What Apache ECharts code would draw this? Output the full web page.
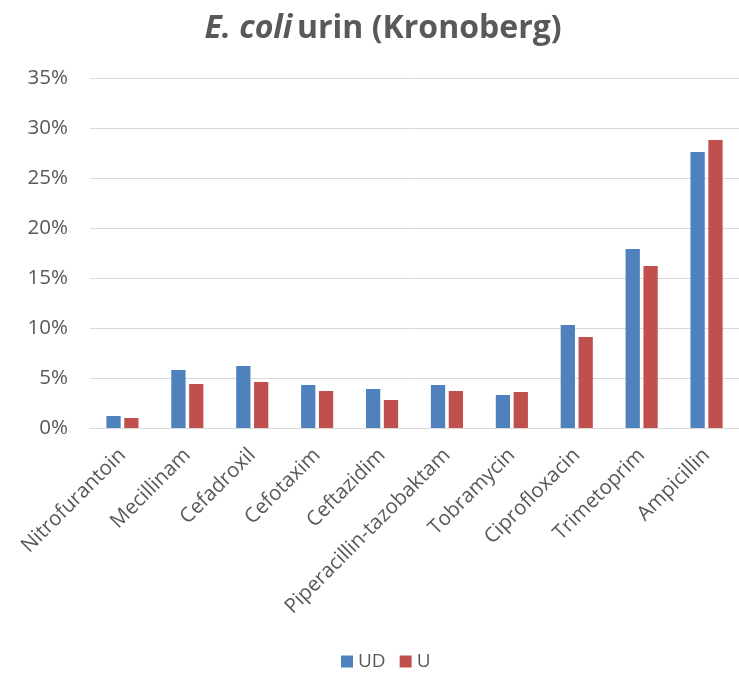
<!DOCTYPE html>
<html>
<head>
<meta charset="utf-8">
<script src="https://cdn.jsdelivr.net/npm/echarts@6/dist/echarts.min.js"></script>
<style>html,body{margin:0;padding:0;background:#fff}#c{width:739px;height:676px}</style>
</head>
<body>
<div id="c"></div>
<script>
const categories = ['Nitrofurantoin','Mecillinam','Cefadroxil','Cefotaxim','Ceftazidim','Piperacillin-tazobaktam','Tobramycin','Ciprofloxacin','Trimetoprim','Ampicillin'];
const seriesUD = [1.2, 5.8, 6.2, 4.3, 3.9, 4.3, 3.3, 10.3, 17.9, 27.6];
const seriesU = [1.0, 4.4, 4.6, 3.7, 2.8, 3.7, 3.6, 9.1, 16.2, 28.8];
const yTicks = [0, 5, 10, 15, 20, 25, 30, 35];

const FONT = '"Open Sans", "Noto Sans", sans-serif';
const chart = echarts.init(document.getElementById('c'), null, {renderer: 'canvas'});
chart.setOption({
  animation: false,
  textStyle: {fontFamily: FONT},
  title: {
    text: '{i|E. coli} {b|urin (Kronoberg)}',
    left: 378, top: 8, textAlign: 'center',
    textStyle: {
      rich: {
        i: {fontFamily: FONT, fontSize: 32, fontWeight: 'bold', fontStyle: 'italic', color: '#595959'},
        b: {fontFamily: FONT, fontSize: 32, fontWeight: 'bold', color: '#595959'}
      }
    }
  },
  legend: {
    bottom: 0, left: 336,
    itemWidth: 12, itemHeight: 12, itemGap: 14,
    icon: 'rect',
    textStyle: {fontFamily: FONT, fontSize: 19, color: '#595959'},
    data: ['UD', 'U']
  },
  grid: {left: 90, right: 0, top: 78, bottom: 248, containLabel: false},
  xAxis: {
    type: 'category',
    data: categories,
    axisLine: {lineStyle: {color: '#d9d9d9', width: 1}},
    axisTick: {show: false},
    axisLabel: {rotate: 45, fontFamily: FONT, fontSize: 20.5, color: '#595959', interval: 0, margin: 24}
  },
  yAxis: {
    type: 'value',
    min: yTicks[0], max: yTicks[yTicks.length - 1], interval: 5,
    axisLine: {show: false},
    axisTick: {show: false},
    splitLine: {lineStyle: {color: '#d9d9d9', width: 1}},
    axisLabel: {formatter: v => v + '%', fontFamily: FONT, fontSize: 20.5, color: '#595959', margin: 22}
  },
  series: [
    {name: 'UD', type: 'bar', data: seriesUD, barWidth: '22%', barGap: '25%',
     itemStyle: {color: '#4f81bd'}},
    {name: 'U', type: 'bar', data: seriesU, barWidth: '22%', barGap: '25%',
     itemStyle: {color: '#c0504d'}}
  ]
});
</script>
</body>
</html>
